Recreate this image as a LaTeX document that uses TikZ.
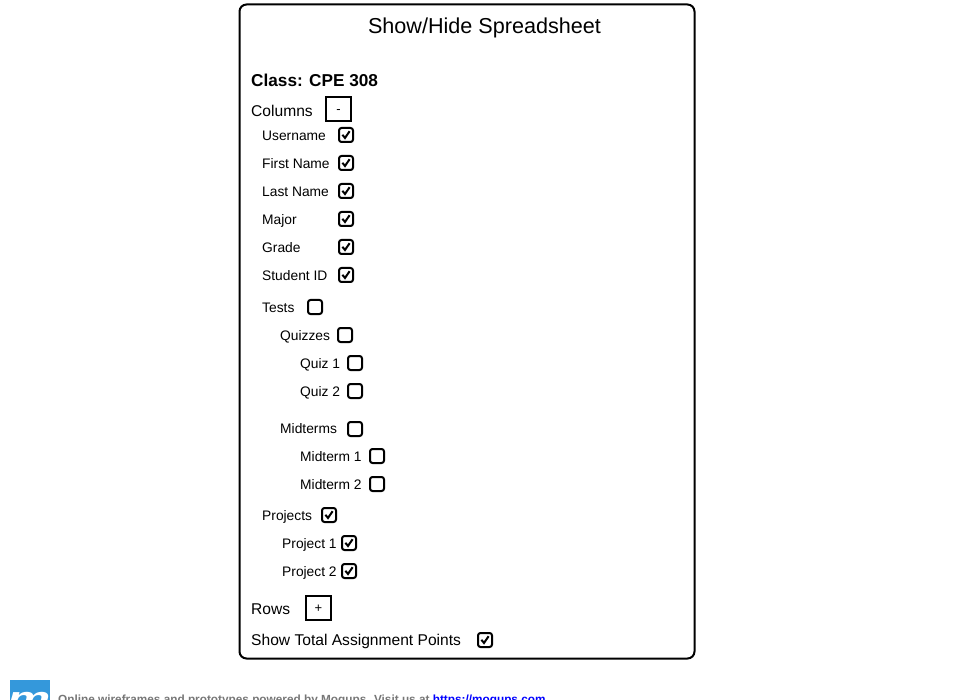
\documentclass[tikz,border=0pt]{standalone}
\usepackage{fontspec}
\setmainfont{Liberation Sans}
\usepackage{tikz}
\usetikzlibrary{positioning}

\definecolor{logoblue}{HTML}{3498DB}
\definecolor{footgrey}{HTML}{777777}

\begin{document}
\begin{tikzpicture}[x=1pt,y=-1pt,
	panel/.style={rectangle,draw,line width=2pt,rounded corners=7pt,minimum width=455pt,minimum height=654pt,inner sep=0pt},
	label/.style={anchor=base west,inner sep=0pt,font=\fontsize{13.8}{16}\selectfont},
	biglabel/.style={anchor=base west,inner sep=0pt,font=\fontsize{15.6}{18}\selectfont},
	toggle/.style={rectangle,draw,line width=2pt,minimum width=25pt,minimum height=24pt,inner sep=0pt,text height=9pt,text depth=0pt,font=\fontsize{13}{15}\selectfont},
	unchecked/.style={rectangle,draw,line width=2pt,rounded corners=2.5pt,minimum size=14pt,inner sep=0pt},
	checked/.style={unchecked,path picture={
		\draw [line width=2pt,sharp corners] ([shift={(-3.6pt,0.2pt)}]path picture bounding box.center)
			-- ([shift={(-1pt,-3pt)}]path picture bounding box.center)
			-- ([shift={(3.6pt,3.8pt)}]path picture bounding box.center);}}
	]
	\useasboundingbox (0,0) rectangle (960,700);
	\clip (0,0) rectangle (960,700);

	\node [panel] (panel) at (467,331.5) {};
	\node [anchor=base,font=\fontsize{21.6}{24}\selectfont,inner sep=0pt] (title) at (484.5,34) {Show/Hide Spreadsheet};
	\node [biglabel,font=\bfseries\fontsize{17.2}{20}\selectfont] (class) at (251,87) {Class: CPE 308};

	\node [biglabel] (columns) at (251,117) {Columns};
	\node [toggle] (columnsbtn) at (338.5,109) {-};

	\node [label] (username) at (262,140.4) {Username};
	\node [checked] (usernamebox) at (346,135) {};
	\node [label] (firstname) at (262,168.4) {First Name};
	\node [checked] (firstnamebox) at (346,163) {};
	\node [label] (lastname) at (262,196.4) {Last Name};
	\node [checked] (lastnamebox) at (346,191) {};
	\node [label] (major) at (262,224.4) {Major};
	\node [checked] (majorbox) at (346,219) {};
	\node [label] (grade) at (262,252.4) {Grade};
	\node [checked] (gradebox) at (346,247) {};
	\node [label] (studentid) at (262,280) {Student ID};
	\node [checked] (studentidbox) at (346,275) {};

	\node [label] (tests) at (262,312.4) {Tests};
	\node [unchecked] (testsbox) at (315,307) {};
	\node [label] (quizzes) at (280,340) {Quizzes};
	\node [unchecked] (quizzesbox) at (345,335) {};
	\node [label] (quizone) at (300,368) {Quiz 1};
	\node [unchecked] (quizonebox) at (355,363) {};
	\node [label] (quiztwo) at (300,396) {Quiz 2};
	\node [unchecked] (quiztwobox) at (355,391) {};
	\node [label] (midterms) at (280,433) {Midterms};
	\node [unchecked] (midtermsbox) at (355,429) {};
	\node [label] (midone) at (300,461) {Midterm 1};
	\node [unchecked] (midonebox) at (377,456) {};
	\node [label] (midtwo) at (300,489) {Midterm 2};
	\node [unchecked] (midtwobox) at (377,484) {};

	\node [label] (projects) at (262,520) {Projects};
	\node [checked] (projectsbox) at (329,515) {};
	\node [label] (projone) at (282,548) {Project 1};
	\node [checked] (projonebox) at (349,543) {};
	\node [label] (projtwo) at (282,576) {Project 2};
	\node [checked] (projtwobox) at (349,571) {};

	\node [biglabel] (rows) at (251,614.3) {Rows};
	\node [toggle] (rowsbtn) at (318.5,608) {+};
	\node [biglabel] (total) at (251,645.3) {Show Total Assignment Points};
	\node [checked] (totalbox) at (485,640) {};

	% footer runs off the page
	\node [rectangle,fill=logoblue,minimum width=40pt,minimum height=40pt,inner sep=0pt] (logo) at (30,700) {};
	\node [text=white,inner sep=0pt,xscale=1.5,font=\bfseries\itshape\fontsize{32}{36}\selectfont,anchor=base] (logom) at (29,709) {m};
	\node [anchor=base west,inner sep=0pt,text=footgrey,font=\bfseries\fontsize{11.8}{13}\selectfont] (footer) at (58,703.5)
		{Online wireframes and prototypes powered by Moqups. Visit us at \textcolor{blue}{https://moqups.com}};
\end{tikzpicture}
\end{document}
